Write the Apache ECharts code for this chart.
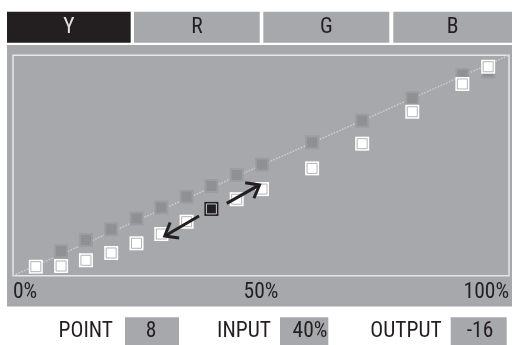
<!DOCTYPE html>
<html><head><meta charset="utf-8">
<script src="https://cdn.jsdelivr.net/npm/echarts@6/dist/echarts.min.js"></script>
<style>html,body{margin:0;padding:0;background:#fff}#c{width:512px;height:345px}</style>
</head><body><div id="c"></div>
<script>
// ---- data ----
var inputX   = [4.6, 9.7, 14.7, 19.8, 24.9, 29.9, 35.0, 40.0, 45.1, 50.2, 60.3, 70.4, 80.5, 90.6, 95.8];
var outputY  = [4.1, 4.4, 7.0, 10.3, 14.7, 18.9, 24.5, 30.3, 34.7, 39.3, 48.7, 59.9, 74.4, 87.0, 94.8];
var defaultY = [4.4, 11.1, 16.2, 21.1, 26.0, 31.0, 35.8, 40.7, 45.7, 50.5, 60.5, 70.3, 80.5, 91.1, 92.6];
var diagX = [0, 100];
var diagY = [0, 100];
var selectedIndex = 7;           // POINT 8
var xTickLabels = ['0%', '50%', '100%'];
var tabs = ['Y', 'R', 'G', 'B'];
var infoLabels = ['POINT', 'INPUT', 'OUTPUT'];
var infoValues = ['8', '40%', '-16'];
// arrow annotations (x0, y0, x1, y1) in data units, tip at (x1, y1)
var arrowsData = [[37.5, 27.1, 30.6, 18.0], [43.1, 32.8, 49.7, 41.2]];

// ---- layout / style ----
var FONT = "'Liberation Sans Narrow','Arial Narrow','Roboto Condensed',sans-serif";
var GRAY = '#a7a8ac', DARK = '#231f20';

var graphics = [];
graphics.push({type:'rect', z:-5, shape:{x:7, y:45, width:505, height:261.5}, style:{fill:GRAY}});
var tabX = [7, 134, 263.3, 393.3], tabW = [123.7, 125.7, 126, 118.7];
tabs.forEach(function(t, i){
  var active = i === 0;
  graphics.push({type:'rect', z:-5, shape:{x:tabX[i], y:11.7, width:tabW[i], height:31}, style:{fill: active ? DARK : GRAY}});
  graphics.push({type:'text', z:5, x:tabX[i] + tabW[i]/2, y:28,
    style:{text:t, font:'21.5px ' + FONT, fill: active ? '#e2e2e2' : DARK, align:'center', verticalAlign:'middle'}});
});
var labelRight = [113, 271, 441.7];
var boxX = [125, 280, 450.7], boxW = [54, 48.3, 56], valCx = [151, 310, 480];
infoLabels.forEach(function(l, i){
  graphics.push({type:'text', z:5, x:labelRight[i], y:332,
    style:{text:l, font:'21.5px ' + FONT, fill:DARK, align:'right', verticalAlign:'middle'}});
  graphics.push({type:'rect', z:-5, shape:{x:boxX[i], y:317.3, width:boxW[i], height:28}, style:{fill:GRAY}});
  graphics.push({type:'text', z:5, x:valCx[i], y:332,
    style:{text:infoValues[i], font:'21.5px ' + FONT, fill:DARK, align:'center', verticalAlign:'middle'}});
});

function pts(xs, ys){ return xs.map(function(x, i){ return [x, ys[i]]; }); }
var outerData = inputX.map(function(x, i){
  var sel = i === selectedIndex;
  return {value:[x, outputY[i]], itemStyle:{color: sel ? DARK : '#ffffff'}};
});
var innerData = inputX.map(function(x, i){
  var sel = i === selectedIndex;
  return {value:[x, outputY[i]], itemStyle:{color: sel ? DARK : '#ffffff', borderColor: sel ? '#c8c8c8' : '#b4b4b6', borderWidth:1}};
});

function renderArrow(params, api){
  var p0 = api.coord([api.value(0), api.value(1)]);
  var p1 = api.coord([api.value(2), api.value(3)]);
  var ang = Math.atan2(p1[1]-p0[1], p1[0]-p0[0]);
  var L = 14.5, a = 38 * Math.PI / 180;
  var w1 = [p1[0] - L*Math.cos(ang - a), p1[1] - L*Math.sin(ang - a)];
  var w2 = [p1[0] - L*Math.cos(ang + a), p1[1] - L*Math.sin(ang + a)];
  var st = {stroke:DARK, lineWidth:3, fill:null, lineJoin:'miter'};
  return {type:'group', children:[
    {type:'polyline', shape:{points:[p0, p1]}, style:st},
    {type:'polyline', shape:{points:[w1, p1, w2]}, style:st}
  ]};
}

var chart = echarts.init(document.getElementById('c'), null, {renderer:'canvas'});
chart.setOption({
  backgroundColor:'#ffffff',
  animation:false,
  graphic:{elements:graphics},
  grid:{left:13, right:2, top:55.3, bottom:69.3, show:true, borderColor:'#e6e6e8', borderWidth:1.5, backgroundColor:'transparent'},
  xAxis:{type:'value', min:0, max:100, interval:50,
    axisLine:{show:false}, axisTick:{show:false}, splitLine:{show:false},
    axisLabel:{margin:6, fontFamily:FONT, fontSize:21.5, color:DARK, alignMinLabel:'left', alignMaxLabel:'right',
      formatter:function(v){ return xTickLabels[Math.round(v/50)]; }}},
  yAxis:{type:'value', min:0, max:100, show:false},
  series:[
    {type:'line', data:pts(diagX, diagY), symbol:'none', z:1,
      lineStyle:{color:'#cfcfd2', width:1.5, type:'dotted'}},
    {type:'scatter', data:pts(inputX, defaultY), symbol:'rect', symbolSize:12, z:2,
      itemStyle:{color:'#8f9094', borderColor:'#9c9da1', borderWidth:2, opacity:1}},
    {type:'scatter', data:outerData, symbol:'rect', symbolSize:14, z:3, itemStyle:{opacity:1}},
    {type:'scatter', data:innerData, symbol:'rect', symbolSize:10, z:4, itemStyle:{opacity:1}},
    {type:'custom', data:arrowsData, renderItem:renderArrow, z:5, encode:{x:[0,2], y:[1,3]}}
  ]
});
</script></body></html>
